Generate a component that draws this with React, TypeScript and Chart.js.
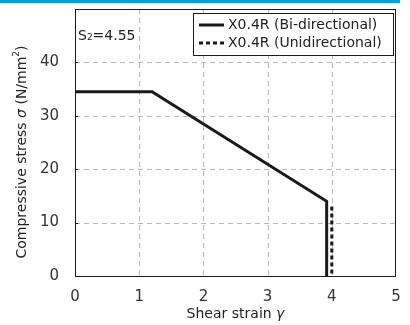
import React, { useEffect, useRef } from "react";
import { Chart, registerables } from "chart.js";

Chart.register(...registerables);

const biX = [0, 1.2, 3.92, 3.92];
const biY = [34.5, 34.5, 14, 0];
const uniX = [4.0, 4.0];
const uniY = [13, 0];
const xTicks = [0, 1, 2, 3, 4, 5];
const yTicks = [0, 10, 20, 30, 40];
const seriesNames = ["X0.4R (Bi-directional)", "X0.4R (Unidirectional)"];
const noteText = ["S", "2", "=4.55"];

const FONT = "'DejaVu Sans', sans-serif";

export default function App() {
  const ref = useRef<HTMLCanvasElement>(null);
  useEffect(() => {
    document.body.style.margin = "0";
    const canvas = ref.current!;
    const deco = {
      id: "deco",
      beforeDatasetsDraw(chart: any) {
        const ctx = chart.ctx;
        const a = chart.chartArea;
        const xs = chart.scales.x;
        const ys = chart.scales.y;
        ctx.save();
        ctx.strokeStyle = "#b8b8b8";
        ctx.lineWidth = 1;
        ctx.setLineDash([5, 4]);
        xTicks.forEach((v) => {
          if (v === xs.min || v === xs.max) return;
          const px = Math.round(xs.getPixelForValue(v)) + 0.5;
          ctx.beginPath();
          ctx.moveTo(px, a.top);
          ctx.lineTo(px, a.bottom);
          ctx.stroke();
        });
        yTicks.forEach((v) => {
          if (v === ys.min) return;
          const py = Math.round(ys.getPixelForValue(v)) + 0.5;
          ctx.beginPath();
          ctx.moveTo(a.left, py);
          ctx.lineTo(a.right, py);
          ctx.stroke();
        });
        ctx.restore();
      },
      afterDatasetsDraw(chart: any) {
        const ctx = chart.ctx;
        const a = chart.chartArea;
        const ys = chart.scales.y;
        ctx.save();
        ctx.strokeStyle = "#1a1a1a";
        ctx.lineWidth = 1;
        ctx.strokeRect(a.left + 0.5, a.top + 0.5, a.right - a.left - 1, a.bottom - a.top);
        yTicks.forEach((v) => {
          const py = Math.round(ys.getPixelForValue(v)) + 0.5;
          ctx.beginPath();
          ctx.moveTo(a.left, py);
          ctx.lineTo(a.left + 3, py);
          ctx.stroke();
        });
        ctx.fillStyle = "#222";
        ctx.textBaseline = "alphabetic";
        ctx.font = `14px ${FONT}`;
        let x = a.left + 3;
        const by = 40;
        ctx.fillText(noteText[0], x, by);
        x += ctx.measureText(noteText[0]).width;
        ctx.font = `9px ${FONT}`;
        ctx.fillText(noteText[1], x, by);
        x += ctx.measureText(noteText[1]).width;
        ctx.font = `14px ${FONT}`;
        ctx.fillText(noteText[2], x, by);
        const lx = 193, ly = 13, lw = 200, lh = 42;
        ctx.fillStyle = "#fff";
        ctx.fillRect(lx, ly, lw, lh);
        ctx.strokeStyle = "#1a1a1a";
        ctx.lineWidth = 1;
        ctx.strokeRect(lx + 0.5, ly + 0.5, lw, lh);
        const rows = [25, 43];
        rows.forEach((ry, i) => {
          ctx.beginPath();
          ctx.lineWidth = 3;
          ctx.strokeStyle = "#1a1a1a";
          ctx.setLineDash(i === 0 ? [] : [4, 3]);
          ctx.moveTo(lx + 6, ry);
          ctx.lineTo(lx + 31, ry);
          ctx.stroke();
          ctx.setLineDash([]);
          ctx.fillStyle = "#222";
          ctx.font = `14px ${FONT}`;
          ctx.textBaseline = "middle";
          ctx.fillText(seriesNames[i], lx + 35, ry);
        });
        ctx.restore();
      },
      afterDraw(chart: any) {
        const ctx = chart.ctx;
        const a = chart.chartArea;
        ctx.save();
        ctx.fillStyle = "#222";
        ctx.textBaseline = "middle";
        const t1 = "Shear strain ";
        ctx.font = `14px ${FONT}`;
        const w1 = ctx.measureText(t1).width;
        ctx.font = `italic 14px ${FONT}`;
        const w2 = ctx.measureText("γ").width;
        const sx = (a.left + a.right) / 2 - (w1 + w2) / 2;
        ctx.font = `14px ${FONT}`;
        ctx.fillText(t1, sx, 314);
        ctx.font = `italic 14px ${FONT}`;
        ctx.fillText("γ", sx + w1, 314);
        ctx.translate(22, 152);
        ctx.rotate(-Math.PI / 2);
        const p1 = "Compressive stress ";
        const p2 = "σ";
        const p3 = " (N/mm";
        const p4 = "2";
        const p5 = ")";
        ctx.font = `14px ${FONT}`;
        const a1 = ctx.measureText(p1).width;
        const a3 = ctx.measureText(p3).width;
        const a5 = ctx.measureText(p5).width;
        ctx.font = `italic 14px ${FONT}`;
        const a2 = ctx.measureText(p2).width;
        ctx.font = `9px ${FONT}`;
        const a4 = ctx.measureText(p4).width;
        let cx = -(a1 + a2 + a3 + a4 + a5) / 2;
        ctx.font = `14px ${FONT}`;
        ctx.fillText(p1, cx, 0); cx += a1;
        ctx.font = `italic 14px ${FONT}`;
        ctx.fillText(p2, cx, 0); cx += a2;
        ctx.font = `14px ${FONT}`;
        ctx.fillText(p3, cx, 0); cx += a3;
        ctx.font = `9px ${FONT}`;
        ctx.fillText(p4, cx, -5); cx += a4;
        ctx.font = `14px ${FONT}`;
        ctx.fillText(p5, cx, 0);
        ctx.restore();
      },
    };
    const chart = new Chart(canvas, {
      type: "scatter",
      data: {
        datasets: [
          {
            label: seriesNames[1],
            data: uniX.map((x, i) => ({ x, y: uniY[i] })),
            showLine: true,
            borderColor: "#1a1a1a",
            borderWidth: 3,
            borderDash: [4, 3],
            pointRadius: 0,
          },
          {
            label: seriesNames[0],
            data: biX.map((x, i) => ({ x, y: biY[i] })),
            showLine: true,
            borderColor: "#1a1a1a",
            borderWidth: 3,
            pointRadius: 0,
            borderCapStyle: "butt",
          },
        ],
      },
      options: {
        animation: false,
        responsive: false,
        layout: { padding: { left: 0, right: 14, top: 9, bottom: 0 } },
        plugins: { legend: { display: false }, tooltip: { enabled: false } },
        scales: {
          x: {
            type: "linear",
            min: 0,
            max: 5,
            afterBuildTicks: (s: any) => { s.ticks = xTicks.map((v) => ({ value: v })); },
            afterFit: (s: any) => { s.height = 49; s.paddingLeft = 0; s.paddingRight = 0; },
            ticks: { color: "#333", font: { size: 15, family: FONT }, padding: 4 },
            grid: { display: false },
            border: { display: false },
          },
          y: {
            type: "linear",
            min: 0,
            max: 50,
            afterBuildTicks: (s: any) => { s.ticks = yTicks.map((v) => ({ value: v })); },
            afterFit: (s: any) => { s.width = 75; s.paddingTop = 0; s.paddingBottom = 0; },
            ticks: { color: "#333", font: { size: 15, family: FONT }, padding: 8 },
            grid: { display: false },
            border: { display: false },
          },
        },
      },
      plugins: [deco],
    });
    return () => chart.destroy();
  }, []);
  return (
    <div style={{ position: "relative", width: 410, height: 325, background: "#fff" }}>
      <div style={{ position: "absolute", left: 0, top: 0, width: 400, height: 3, background: "#00a0e6" }} />
      <canvas ref={ref} width={410} height={325} style={{ display: "block" }} />
    </div>
  );
}
